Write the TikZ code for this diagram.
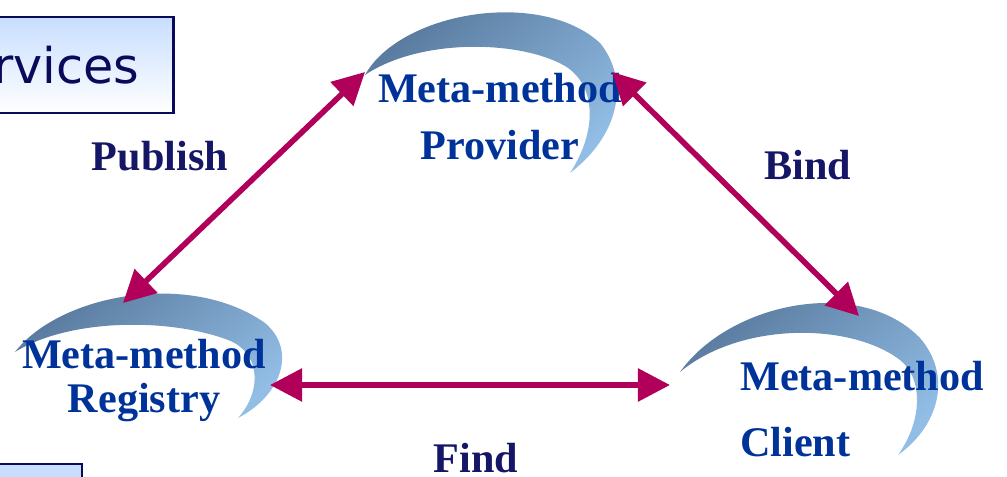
\documentclass[tikz,border=0pt]{standalone}
\usepackage{fontspec}
\setmainfont{Liberation Serif}
\newfontfamily\boxfont{DejaVu Sans}
\usetikzlibrary{arrows.meta}

\definecolor{linkred}{RGB}{176,0,90}
\definecolor{swdark}{RGB}{86,118,154}
\definecolor{swlight}{RGB}{146,190,230}
\definecolor{roleblue}{RGB}{0,51,153}
\definecolor{verbnavy}{RGB}{22,22,102}
\definecolor{boxnavy}{RGB}{10,10,90}
\definecolor{boxfill}{RGB}{200,222,255}

\tikzset{
  link/.style={line width=4pt, draw=linkred,
    {Triangle[length=0.8cm,width=0.8cm]}-{Triangle[length=0.8cm,width=0.8cm]}},
  swoosh/.style={top color=swdark, bottom color=swlight, shading angle=40},
  role/.style={text=roleblue, font=\fontsize{30}{36}\selectfont\bfseries, inner sep=0pt},
  verb/.style={text=verbnavy, font=\fontsize{30}{36}\selectfont\bfseries, inner sep=0pt},
}

\begin{document}
\begin{tikzpicture}[x=0.025cm,y=-0.025cm]
\useasboundingbox (0,0) rectangle (1007,477);

% title box, cut at the left edge
\node[anchor=east, draw=boxnavy, line width=2pt, top color=boxfill, bottom color=white,
      minimum height=2.4cm, inner xsep=0.85cm, text=boxnavy,
      font=\boxfont\fontsize{35}{40}\selectfont] (title) at (175,65) {rvices};
% second box, mostly off the page
\draw[boxnavy, line width=2pt, fill=boxfill] (-10,464) rectangle (82,500);

% swooshes
\shade[swoosh] (365,75) .. controls (400,12) and (540,-12) .. (600,43)
  .. controls (630,80) and (620,135) .. (570,173)
  .. controls (598,130) and (596,85) .. (565,66)
  .. controls (520,40) and (420,38) .. cycle;
\shade[swoosh] (15,352) .. controls (60,294) and (190,270) .. (265,323)
  .. controls (297,350) and (282,395) .. (238,418)
  .. controls (263,390) and (260,352) .. (228,340)
  .. controls (170,318) and (70,318) .. cycle;
\shade[swoosh] (680,372) .. controls (730,302) and (860,276) .. (920,338)
  .. controls (952,375) and (940,425) .. (898,455)
  .. controls (923,420) and (923,378) .. (900,360)
  .. controls (850,322) and (740,322) .. cycle;

% roles
\node[role, align=center, anchor=base] (prov) at (500,160) {Meta-method\\[5pt]Provider};
\node[role, align=center, anchor=base] (reg) at (144,413) {Meta-method\\[-4pt]Registry};
\node[role, align=left, anchor=base west] (cli) at (740,457) {Meta-method\\[11pt]Client};

% operations
\node[verb, anchor=base] (publish) at (160,171) {Publish};
\node[verb, anchor=base] (bind) at (808,180) {Bind};
\node[verb, anchor=base] (find) at (476,473) {Find};

\coordinate (pubA) at (123,303);
\coordinate (pubB) at (365,72);
\coordinate (bindA) at (612,72);
\coordinate (bindB) at (859,316);
\coordinate (findA) at (270,385);
\coordinate (findB) at (670,385);

\draw[link] (pubA) -- (pubB);
\draw[link] (bindA) -- (bindB);
\draw[link] (findA) -- (findB);

\end{tikzpicture}
\end{document}
